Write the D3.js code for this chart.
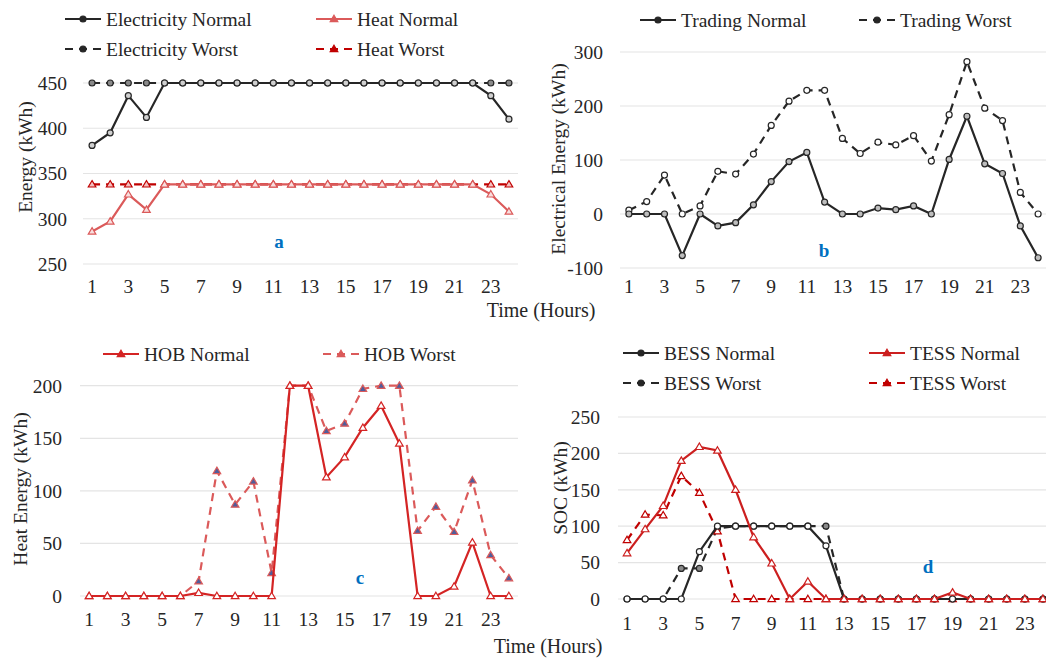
<!DOCTYPE html>
<html>
<head>
<meta charset="utf-8">
<script src="https://cdn.jsdelivr.net/npm/d3@7"></script>
<style>
  body { margin: 0; background: #fff; }
</style>
</head>
<body>
<div id="chart"></div>
<script>
// hours on the x axis
const hours = [1, 2, 3, 4, 5, 6, 7, 8, 9, 10, 11, 12, 13, 14, 15, 16, 17, 18, 19, 20, 21, 22, 23, 24];
const hourTicks = [1, 3, 5, 7, 9, 11, 13, 15, 17, 19, 21, 23];

// panel a
const elecNormal = [381, 395, 436, 412, 450, 450, 450, 450, 450, 450, 450, 450, 450, 450, 450, 450, 450, 450, 450, 450, 450, 450, 436, 410];
const elecWorst = [450, 450, 450, 450, 450, 450, 450, 450, 450, 450, 450, 450, 450, 450, 450, 450, 450, 450, 450, 450, 450, 450, 450, 450];
const heatNormal = [286, 297, 327, 310, 338, 338, 338, 338, 338, 338, 338, 338, 338, 338, 338, 338, 338, 338, 338, 338, 338, 338, 327, 308];
const heatWorst = [338, 338, 338, 338, 338, 338, 338, 338, 338, 338, 338, 338, 338, 338, 338, 338, 338, 338, 338, 338, 338, 338, 338, 338];
const ticksA = [250, 300, 350, 400, 450];

// panel b
const tradingNormal = [0, 0, 0, -77, 0, -22, -16, 17, 60, 97, 114, 22, 0, 0, 11, 8, 15, 0, 101, 181, 93, 75, -22, -81];
const tradingWorst = [7, 23, 72, 0, 15, 79, 74, 111, 164, 209, 229, 229, 140, 112, 133, 128, 145, 98, 184, 282, 196, 173, 40, 0];
const ticksB = [-100, 0, 100, 200, 300];

// panel c
const hobNormal = [0, 0, 0, 0, 0, 0, 3, 0, 0, 0, 0, 200, 200, 113, 132, 160, 181, 145, 0, 0, 9, 51, 0, 0];
const hobWorst = [0, 0, 0, 0, 0, 0, 14, 119, 87, 109, 22, 200, 200, 157, 164, 197, 200, 200, 62, 85, 61, 110, 39, 17];
const ticksC = [0, 50, 100, 150, 200];

// panel d
const bessNormal = [0, 0, 0, 0, 65, 100, 100, 100, 100, 100, 100, 73, 0, 0, 0, 0, 0, 0, 0, 0, 0, 0, 0, 0];
const bessWorst = [0, 0, 0, 42, 42, 97, 100, 100, 100, 100, 100, 100, 0, 0, 0, 0, 0, 0, 0, 0, 0, 0, 0, 0];
const tessNormal = [63, 96, 128, 190, 209, 204, 150, 85, 49, 0, 24, 0, 0, 0, 0, 0, 0, 0, 9, 0, 0, 0, 0, 0];
const tessWorst = [81, 116, 115, 169, 146, 93, 0, 0, 0, 0, 0, 0, 0, 0, 0, 0, 0, 0, 0, 0, 0, 0, 0, 0];
const ticksD = [0, 50, 100, 150, 200, 250];

const BLACK = "#262626";
const RED = "#C00000";
const LIGHTRED = "#DB5A5A";
const DASH = "8,6";
const FONT = "19.5px";
const SERIF = "'Times New Roman', 'Liberation Serif', 'DejaVu Serif', serif";

const svg = d3.select("#chart").append("svg")
    .attr("width", 1046)
    .attr("height", 660)
    .attr("font-family", SERIF);

function label(g) {
    return g.append("text")
        .attr("font-family", SERIF)
        .style("font-size", FONT)
        .style("fill", "#262626");
}

function drawMarker(g, shape, x, y, color, fill) {
    if (shape === "circle") {
        g.append("circle")
            .attr("cx", x).attr("cy", y).attr("r", 3)
            .attr("fill", fill).attr("stroke", color).attr("stroke-width", 1.2);
    } else {
        const s = 3.8;
        g.append("path")
            .attr("d", `M${x},${y - s}L${x + s},${y + s * 0.7}L${x - s},${y + s * 0.7}Z`)
            .attr("fill", fill).attr("stroke", color).attr("stroke-width", 1.2);
    }
}

function drawPanel(p) {
    const g = svg.append("g");
    const x = d3.scaleLinear().domain([0.5, 24.5]).range([p.left, p.right]);
    const y = d3.scaleLinear().domain(p.domain).range(p.yRange);

    // gridlines
    g.selectAll(".grid")
        .data(p.ticks)
        .enter()
        .append("line")
        .attr("x1", p.left).attr("x2", p.right)
        .attr("y1", d => y(d)).attr("y2", d => y(d))
        .attr("stroke", "#e4e4e4")
        .attr("stroke-width", 1.2);

    // y tick labels
    p.ticks.forEach(t => {
        label(g)
            .attr("x", p.yLabelX)
            .attr("y", y(t))
            .attr("dy", "0.35em")
            .attr("text-anchor", "end")
            .text(t);
    });

    // x tick labels
    hourTicks.forEach(h => {
        label(g)
            .attr("x", x(h))
            .attr("y", p.xLabelY)
            .attr("text-anchor", "middle")
            .text(h);
    });

    // y title
    label(g)
        .attr("transform", `translate(${p.titleX},${p.titleY}) rotate(-90)`)
        .attr("text-anchor", "middle")
        .attr("dy", "0.35em")
        .text(p.yTitle);

    // panel letter
    label(g)
        .attr("x", p.letterX)
        .attr("y", p.letterY)
        .attr("text-anchor", "middle")
        .style("font-size", "19px")
        .style("font-weight", "bold")
        .style("fill", "#0070C0")
        .text(p.letter);

    const line = d3.line()
        .x((d, i) => x(hours[i]))
        .y(d => y(d));

    p.series.forEach(s => {
        g.append("path")
            .datum(s.values)
            .attr("d", line)
            .attr("fill", "none")
            .attr("stroke", s.color)
            .attr("stroke-width", 2.2)
            .attr("stroke-dasharray", s.dashed ? DASH : null);
        s.values.forEach((v, i) => {
            drawMarker(g, s.shape, x(hours[i]), y(v), s.color, s.fill);
        });
    });

    // legend
    p.series.forEach(s => {
        const lx = s.legend[0], ly = s.legend[1];
        g.append("line")
            .attr("x1", lx).attr("x2", lx + 36)
            .attr("y1", ly).attr("y2", ly)
            .attr("stroke", s.color)
            .attr("stroke-width", 2.2)
            .attr("stroke-dasharray", s.dashed ? DASH : null);
        drawMarker(g, s.shape, lx + 18, ly, s.color, s.color);
        label(g)
            .attr("x", lx + 41)
            .attr("y", ly)
            .attr("dy", "0.35em")
            .text(s.name);
    });
}

drawPanel({
    left: 83, right: 518, domain: [250, 450], yRange: [264, 83],
    ticks: ticksA, yLabelX: 67, xLabelY: 293,
    yTitle: "Energy (kWh)", titleX: 25, titleY: 157,
    letter: "a", letterX: 279, letterY: 248,
    series: [
        { name: "Electricity Worst", values: elecWorst, color: BLACK, dashed: true, shape: "circle", fill: "#8a8a8a", legend: [65, 49] },
        { name: "Heat Worst", values: heatWorst, color: RED, dashed: true, shape: "tri", fill: "#f3c0c0", legend: [316, 49] },
        { name: "Electricity Normal", values: elecNormal, color: BLACK, dashed: false, shape: "circle", fill: "#d0d0d0", legend: [65, 19] },
        { name: "Heat Normal", values: heatNormal, color: LIGHTRED, dashed: false, shape: "tri", fill: "#f8dede", legend: [316, 19] }
    ]
});

drawPanel({
    left: 620, right: 1047, domain: [-100, 300], yRange: [268, 52],
    ticks: ticksB, yLabelX: 603, xLabelY: 293,
    yTitle: "Electrical Energy (kWh)", titleX: 558, titleY: 159,
    letter: "b", letterX: 824, letterY: 257,
    series: [
        { name: "Trading Worst", values: tradingWorst, color: BLACK, dashed: true, shape: "circle", fill: "#ffffff", legend: [859, 20] },
        { name: "Trading Normal", values: tradingNormal, color: BLACK, dashed: false, shape: "circle", fill: "#bdbdbd", legend: [640, 20] }
    ]
});

drawPanel({
    left: 80, right: 518, domain: [0, 200], yRange: [596, 385.7],
    ticks: ticksC, yLabelX: 62, xLabelY: 626,
    yTitle: "Heat Energy (kWh)", titleX: 20, titleY: 489,
    letter: "c", letterX: 360, letterY: 584,
    series: [
        { name: "HOB Worst", values: hobWorst, color: LIGHTRED, dashed: true, shape: "tri", fill: "#4F5D9B", legend: [323, 354] },
        { name: "HOB Normal", values: hobNormal, color: "#D42424", dashed: false, shape: "tri", fill: "#ffffff", legend: [103, 354] }
    ]
});

drawPanel({
    left: 618, right: 1052, domain: [0, 250], yRange: [599, 417],
    ticks: ticksD, yLabelX: 600, xLabelY: 630,
    yTitle: "SOC (kWh)", titleX: 560, titleY: 488,
    letter: "d", letterX: 928, letterY: 573,
    series: [
        { name: "BESS Worst", values: bessWorst, color: BLACK, dashed: true, shape: "circle", fill: "#8a8a8a", legend: [623, 383] },
        { name: "TESS Worst", values: tessWorst, color: RED, dashed: true, shape: "tri", fill: "#ffffff", legend: [869, 383] },
        { name: "BESS Normal", values: bessNormal, color: BLACK, dashed: false, shape: "circle", fill: "#ffffff", legend: [623, 353] },
        { name: "TESS Normal", values: tessNormal, color: "#CC1F1F", dashed: false, shape: "tri", fill: "#ffffff", legend: [869, 353] }
    ]
});

// shared x titles
label(svg)
    .attr("x", 541).attr("y", 317)
    .attr("text-anchor", "middle")
    .style("font-size", "20px")
    .text("Time (Hours)");

label(svg)
    .attr("x", 548).attr("y", 653)
    .attr("text-anchor", "middle")
    .style("font-size", "20px")
    .text("Time (Hours)");
</script>
</body>
</html>
